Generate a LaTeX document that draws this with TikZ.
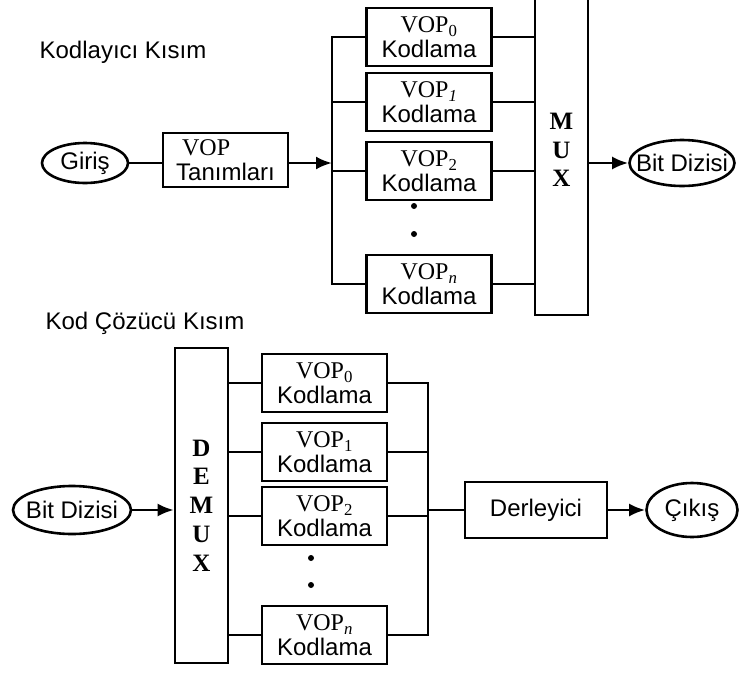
\documentclass[tikz,border=0pt]{standalone}
\usepackage{fontspec}
\setmainfont{Liberation Serif}
\setsansfont{Liberation Sans}
\usetikzlibrary{shapes.geometric,arrows.meta}
\newcommand{\vop}[1]{{\rmfamily\fontsize{24}{25}\selectfont VOP\textsubscript{#1}}}

\begin{document}
\begin{tikzpicture}[x=1pt,y=-1pt,line width=2.6pt,
    txt/.style={font=\sffamily\fontsize{24}{25}\selectfont},
    blok/.style={draw,rectangle,txt,minimum width=125pt,minimum height=58pt,inner sep=0pt,align=center},
    uc/.style={draw,ellipse,inner sep=0pt},
    mx/.style={draw,rectangle,minimum width=53pt,inner sep=0pt,align=center,font=\rmfamily\bfseries\fontsize{25}{28.7}\selectfont},
    ok/.style={-{Latex[length=16pt,width=13pt]}}]
        \useasboundingbox (0,0) rectangle (748,673);
        % kodlayici
        \node[txt,anchor=west] (baslik1) at (35,52) {Kodlayıcı Kısım};
        \node[uc,minimum width=86pt,minimum height=40pt,label={[txt]center:Giriş}] (giris) at (85,163) {};
        \node[blok,minimum height=54pt,align=left] (tanim) at (225.5,160) {\hspace*{6pt}{\rmfamily\fontsize{24}{25}\selectfont VOP}\\Tanımları};
        \node[blok] (k0) at (429,37) {\vop{0}\\Kodlama};
        \node[blok] (k1) at (429,102) {\vop{\itshape 1}\\Kodlama};
        \node[blok] (k2) at (429,171) {\vop{2}\\Kodlama};
        \node[blok] (kn) at (429,284) {\vop{\itshape n}\\Kodlama};
        \node[mx,minimum height=330pt] (mux) at (561.5,150) {M\\U\\X};
        \node[uc,minimum width=105pt,minimum height=46pt,label={[txt]center:Bit Dizisi}] (cikti1) at (682,163) {};
        \coordinate (solbara) at (332,163);
        \draw (giris.east) -- (giris.east -| tanim.west);
        \draw[ok] (tanim.east |- solbara) -- (solbara);
        \draw (k0.west) -- (k0.west -| solbara) -- (kn.west -| solbara) -- (kn.west);
        \draw (k1.west) -- (k1.west -| solbara);
        \draw (k2.west) -- (k2.west -| solbara);
        \draw (k0.east) -- (k0.east -| mux.west);
        \draw (k1.east) -- (k1.east -| mux.west);
        \draw (k2.east) -- (k2.east -| mux.west);
        \draw (kn.east) -- (kn.east -| mux.west);
        \draw[ok] (mux.east |- cikti1) -- (cikti1.west);
        \fill (414,206) circle (3);
        \fill (414,234) circle (3);
        % kod cozucu
        \node[txt,anchor=west] (baslik2) at (41,323) {Kod Çözücü Kısım};
        \node[uc,minimum width=118pt,minimum height=48pt,label={[txt]center:Bit Dizisi}] (girdi2) at (72,510) {};
        \node[mx,minimum height=315pt] (demux) at (201.5,505.5) {D\\E\\M\\U\\X};
        \node[blok] (c0) at (324.5,383) {\vop{0}\\Kodlama};
        \node[blok] (c1) at (324.5,452) {\vop{1}\\Kodlama};
        \node[blok] (c2) at (324.5,516) {\vop{2}\\Kodlama};
        \node[blok] (cn) at (324.5,635) {\vop{\itshape n}\\Kodlama};
        \node[blok,minimum width=142pt,minimum height=56pt] (derle) at (536,510) {Derleyici};
        \node[uc,minimum width=91pt,minimum height=54pt,label={[txt]center:Çıkış}] (cikis) at (692,510) {};
        \coordinate (sagbara) at (428,510);
        \draw[ok] (girdi2.east) -- (girdi2.east -| demux.west);
        \draw (demux.east |- c0) -- (c0.west);
        \draw (demux.east |- c1) -- (c1.west);
        \draw (demux.east |- c2) -- (c2.west);
        \draw (demux.east |- cn) -- (cn.west);
        \draw (c0.east) -- (c0.east -| sagbara) -- (cn.east -| sagbara) -- (cn.east);
        \draw (c1.east) -- (c1.east -| sagbara);
        \draw (c2.east) -- (c2.east -| sagbara);
        \draw (sagbara) -- (derle.west);
        \draw[ok] (derle.east) -- (cikis.west);
        \fill (311,558) circle (3);
        \fill (311,585) circle (3);
      \end{tikzpicture}
\end{document}
